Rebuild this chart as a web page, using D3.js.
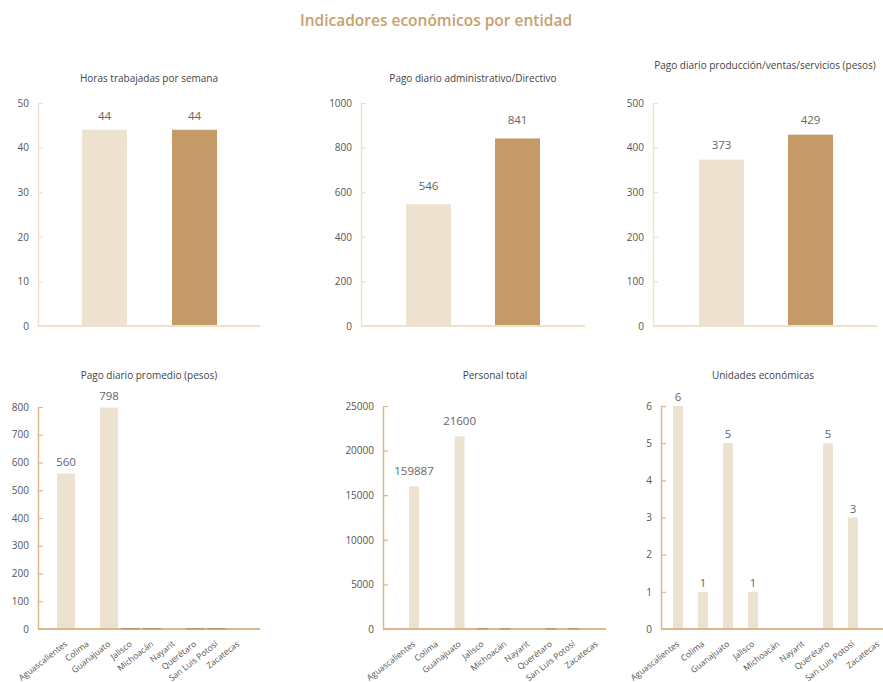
<!DOCTYPE html>
<html>
<head>
<meta charset="utf-8">
<script src="https://cdn.jsdelivr.net/npm/d3@7"></script>
<style>
  html, body { margin: 0; padding: 0; background: #ffffff; }
  svg { display: block; font-family: "Open Sans", "Noto Sans", sans-serif; }
</style>
</head>
<body>
<svg id="chart" width="883" height="682"></svg>
<script>
// ---------- DATA ----------
const mainTitle = "Indicadores económicos por entidad";

const topSeries = ["Serie A", "Serie B"];
const horasValues = [44, 44];
const horasTicks = [0, 10, 20, 30, 40, 50];
const pagoAdminValues = [546, 841];
const pagoAdminTicks = [0, 200, 400, 600, 800, 1000];
const pagoProdValues = [373, 429];
const pagoProdTicks = [0, 100, 200, 300, 400, 500];

const entidades = ["Aguascalientes", "Colima", "Guanajuato", "Jalisco", "Michoacán",
                   "Nayarit", "Querétaro", "San Luis Potosí", "Zacatecas"];
const pagoPromedioValues = [560, null, 798, 0, 0, null, 0, 0, null];
const pagoPromedioLabels = ["560", "", "798", "", "", "", "", "", ""];
const pagoPromedioTicks = [0, 100, 200, 300, 400, 500, 600, 700, 800];
const personalValues = [15989, null, 21600, 0, 0, null, 0, 0, null];
const personalLabels = ["159887", "", "21600", "", "", "", "", "", ""];
const personalTicks = [0, 5000, 10000, 15000, 20000, 25000];
const unidadesValues = [6, 1, 5, 1, 0, 0, 5, 3, 0];
const unidadesLabels = ["6", "1", "5", "1", "", "", "5", "3", ""];
const unidadesTicks = [0, 1, 2, 3, 4, 5, 6];

// ---------- STYLE ----------
const LIGHT = "#ede1cf";
const DARK = "#c59a68";
const AXIS_TOP = "#f0e1ca";
const AXIS_BOTTOM = "#ddb68c";
const TEXT = "#555555";

const panels = [
  { title: "Horas trabajadas por semana", tx: 149, ty: 78,
    ax: 38, ax1: 260, yTop: 103, yBot: 326, ticks: horasTicks,
    cats: topSeries, values: horasValues, labels: horasValues.map(String),
    colors: [LIGHT, DARK], c0: 104.5, step: 90, bw: 45, lblOff: 10, axisColor: AXIS_TOP, xLabels: false },
  { title: "Pago diario administrativo/Directivo", tx: 473, ty: 78,
    ax: 361, ax1: 585, yTop: 103, yBot: 326, ticks: pagoAdminTicks,
    cats: topSeries, values: pagoAdminValues, labels: pagoAdminValues.map(String),
    colors: [LIGHT, DARK], c0: 428.5, step: 89, bw: 45, lblOff: 14, axisColor: AXIS_TOP, xLabels: false },
  { title: "Pago diario producción/ventas/servicios (pesos)", tx: 765, ty: 65,
    ax: 653, ax1: 877, yTop: 103, yBot: 326, ticks: pagoProdTicks,
    cats: topSeries, values: pagoProdValues, labels: pagoProdValues.map(String),
    colors: [LIGHT, DARK], c0: 721.5, step: 89, bw: 45, lblOff: 11, axisColor: AXIS_TOP, xLabels: false },
  { title: "Pago diario promedio (pesos)", tx: 149, ty: 375,
    ax: 38, ax1: 260, yTop: 407, yBot: 629, ticks: pagoPromedioTicks,
    cats: entidades, values: pagoPromedioValues, labels: pagoPromedioLabels,
    colors: [LIGHT], c0: 66, step: 21.5, bw: 18, lblOff: 8, axisColor: AXIS_BOTTOM, xLabels: true, zeroMarks: true },
  { title: "Personal total", tx: 495, ty: 375,
    ax: 383, ax1: 606, yTop: 406, yBot: 629, ticks: personalTicks,
    cats: entidades, values: personalValues, labels: personalLabels,
    colors: [LIGHT], c0: 414, step: 22.8, bw: 10, lblOff: 11, axisColor: AXIS_BOTTOM, xLabels: true, zeroMarks: true },
  { title: "Unidades económicas", tx: 763, ty: 375,
    ax: 661, ax1: 883, yTop: 406, yBot: 629, ticks: unidadesTicks,
    cats: entidades, values: unidadesValues, labels: unidadesLabels,
    colors: [LIGHT], c0: 678, step: 25, bw: 10, lblOff: 5, axisColor: AXIS_BOTTOM, xLabels: true, zeroMarks: false }
];

const svg = d3.select("#chart");

svg.append("text")
  .attr("x", 436).attr("y", 26)
  .attr("text-anchor", "middle")
  .attr("fill", "#c8a06c")
  .attr("font-size", 15.5)
  .attr("font-weight", 600)
  .text(mainTitle);

panels.forEach(p => {
  const g = svg.append("g");
  const maxV = p.ticks[p.ticks.length - 1];
  const y = d3.scaleLinear().domain([0, maxV]).range([p.yBot, p.yTop]);
  const pad = 1 - p.bw / p.step;
  const x = d3.scaleBand().domain(p.cats)
    .range([p.c0 - p.step / 2, p.c0 - p.step / 2 + p.cats.length * p.step])
    .paddingInner(pad).paddingOuter(pad / 2);

  // title
  g.append("text")
    .attr("x", p.tx).attr("y", p.ty + 3.5)
    .attr("text-anchor", "middle")
    .attr("font-size", 10)
    .attr("font-weight", 500)
    .attr("fill", "#444")
    .text(p.title);

  // bars
  const data = p.cats.map((c, i) => ({ c, v: p.values[i], l: p.labels[i], i }));
  g.selectAll("rect.bar").data(data.filter(d => d.v !== null && d.v > 0)).enter()
    .append("rect").attr("class", "bar")
    .attr("x", d => x(d.c))
    .attr("width", x.bandwidth())
    .attr("y", d => y(d.v))
    .attr("height", d => y(0) - y(d.v))
    .attr("fill", d => p.colors[d.i % p.colors.length]);

  // baseline
  g.append("line")
    .attr("x1", p.ax).attr("x2", p.ax1)
    .attr("y1", y(0)).attr("y2", y(0))
    .attr("stroke", p.axisColor).attr("stroke-width", 2);

  // zero marks (value 0)
  if (p.zeroMarks) {
    g.selectAll("rect.zero").data(data.filter(d => d.v === 0)).enter()
      .append("rect").attr("class", "zero")
      .attr("x", d => x(d.c))
      .attr("width", x.bandwidth())
      .attr("y", y(0) - 1)
      .attr("height", 1.5)
      .attr("fill", "#b08a60")
      .attr("opacity", 0.7);
  }

  // value labels
  g.selectAll("text.val").data(data.filter(d => d.l)).enter()
    .append("text").attr("class", "val")
    .attr("x", d => x(d.c) + x.bandwidth() / 2)
    .attr("y", d => y(d.v) - p.lblOff)
    .attr("text-anchor", "middle")
    .attr("font-size", 11.5)
    .attr("font-weight", 500)
    .attr("fill", "#666")
    .text(d => d.l);

  // y axis
  const yAxis = d3.axisLeft(y).tickValues(p.ticks).tickSizeInner(-5).tickSizeOuter(0).tickPadding(9)
    .tickFormat(d3.format("d"));
  const ya = g.append("g").attr("transform", `translate(${p.ax},0)`).call(yAxis);
  ya.select(".domain").attr("stroke", p.axisColor).attr("stroke-width", 1.5);
  ya.selectAll(".tick line").attr("stroke", p.axisColor).attr("stroke-width", 1.2);
  ya.selectAll(".tick text")
    .attr("fill", TEXT).attr("font-size", 10)
    .attr("font-family", "Open Sans, sans-serif");

  // x axis labels
  if (p.xLabels) {
    const xAxis = d3.axisBottom(x).tickSize(0).tickPadding(0);
    const xa = g.append("g").attr("transform", `translate(0,${y(0)})`).call(xAxis);
    xa.select(".domain").remove();
    xa.selectAll(".tick text")
      .attr("fill", TEXT).attr("font-size", 8.5)
      .attr("font-family", "Open Sans, sans-serif")
      .attr("text-anchor", "end")
      .attr("dy", 0)
      .attr("transform", "translate(2,16) rotate(-38)");
  }
});
</script>
</body>
</html>
